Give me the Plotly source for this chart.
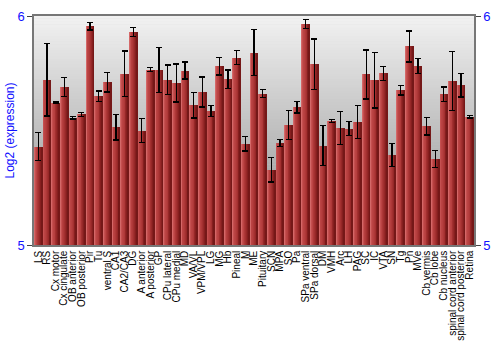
import plotly.graph_objects as go

regions = ["LS", "RS", "Cx motor", "Cx cingulate", "OB anterior", "OB posterior", "Pir", "Tu",
           "ventral S", "CA1", "CA2/CA3", "DG", "A anterior", "A posterior", "GP", "CPu lateral",
           "CPu medial", "MD", "VA/VL", "VPM/VPL", "LG", "MG", "Hb", "Pineal", "M", "ME",
           "Pituitary", "SCN", "MPA", "SO", "Pa", "SPa ventral", "SPa dorsal", "DM", "VMH", "Arc",
           "LH", "PAG", "SC", "IC", "VTA", "SN", "Tg", "Pn", "MVe", "Cb vermis", "Cb lobe",
           "Cb nucleus", "spinal cord anterior", "spinal cord posterior", "Retina"]

expression = [5.430, 5.721, 5.621, 5.689, 5.555, 5.570, 5.955, 5.649,
              5.710, 5.514, 5.748, 5.931, 5.500, 5.766, 5.763, 5.721,
              5.708, 5.762, 5.610, 5.668, 5.586, 5.781, 5.724, 5.818, 5.442, 5.840,
              5.661, 5.328, 5.445, 5.525, 5.602, 5.964, 5.789, 5.434, 5.541, 5.511,
              5.508, 5.537, 5.745, 5.720, 5.749, 5.393, 5.676, 5.867, 5.781, 5.519, 5.376,
              5.658, 5.716, 5.698, 5.561]

errors = [0.060, 0.158, 0.004, 0.041, 0.005, 0.010, 0.016, 0.023,
          0.042, 0.055, 0.099, 0.020, 0.052, 0.009, 0.098, 0.065,
          0.083, 0.037, 0.056, 0.065, 0.024, 0.038, 0.040, 0.030, 0.031, 0.101,
          0.018, 0.053, 0.015, 0.063, 0.026, 0.020, 0.110, 0.088, 0.007, 0.072,
          0.030, 0.072, 0.107, 0.122, 0.032, 0.049, 0.021, 0.068, 0.033, 0.039, 0.038,
          0.032, 0.130, 0.052, 0.006]

y_ticks = [5, 6]

fig = go.Figure()

# horizontal gradient across each bar, built from overlaid slices
slice_colors = ["#d46868", "#c55050", "#bb4444", "#b63f3f", "#ae3838",
                "#a33030", "#962828", "#861f1f", "#751818"]
total_w = 0.88
n = len(slice_colors)
sw = total_w / n
for i, c in enumerate(slice_colors):
    fig.add_trace(go.Bar(
        x=regions, y=expression, width=sw * 1.05, offset=-total_w / 2 + i * sw,
        marker=dict(color=c, line=dict(width=0)), showlegend=False, hoverinfo="skip"))

# error bars on top
fig.add_trace(go.Bar(
    x=regions, y=expression, width=total_w, offset=-total_w / 2,
    marker=dict(color="rgba(0,0,0,0)", line=dict(width=0)),
    error_y=dict(type="data", array=errors, visible=True, color="black",
                 thickness=1.3, width=3),
    showlegend=False))

# dummy trace for right axis
fig.add_trace(go.Scatter(x=[regions[0]], y=[None], yaxis="y2", showlegend=False,
                         mode="markers"))

# background gradient
shapes = []
nb = 80
for k in range(nb):
    t = k / nb
    g = int(round(140 + (242 - 140) * (t + 0.5 / nb)))
    shapes.append(dict(type="rect", xref="paper", yref="paper", x0=0, x1=1,
                       y0=t, y1=(k + 1) / nb + 0.002, line=dict(width=0),
                       fillcolor=f"rgb({g},{g},{g})", layer="below"))

font_family = "Liberation Sans, Arial, sans-serif"
fig.update_layout(
    width=500, height=350,
    margin=dict(l=27, r=13, t=9, b=99),
    paper_bgcolor="white", plot_bgcolor="#d0d0d0",
    barmode="overlay", bargap=0,
    shapes=shapes,
    font=dict(family=font_family),
    xaxis=dict(type="category", range=[-0.5, len(regions) - 0.5],
               tickmode="array", tickvals=regions, ticktext=regions,
               tickangle=-90, ticks="", showgrid=False,
               tickfont=dict(size=10, color="black", family=font_family),
               showline=True, mirror=True, linecolor="#777", linewidth=1.5),
    yaxis=dict(range=[5, 6], tickvals=y_ticks, ticks="outside", ticklen=5,
               tickcolor="#444", showgrid=False, zeroline=False,
               tickfont=dict(size=13, color="#1010ff", family=font_family),
               showline=True, linecolor="#777", linewidth=1.5,
               title=dict(text="Log2 (expression)", standoff=0,
                          font=dict(size=12, color="#1010ff", family=font_family))),
    yaxis2=dict(range=[5, 6], tickvals=y_ticks, overlaying="y", side="right",
                ticks="outside", ticklen=5, tickcolor="#444", showgrid=False,
                zeroline=False, showline=True, linecolor="#777", linewidth=1.5,
                tickfont=dict(size=13, color="#1010ff", family=font_family)),
)

fig.write_html("out.html")
